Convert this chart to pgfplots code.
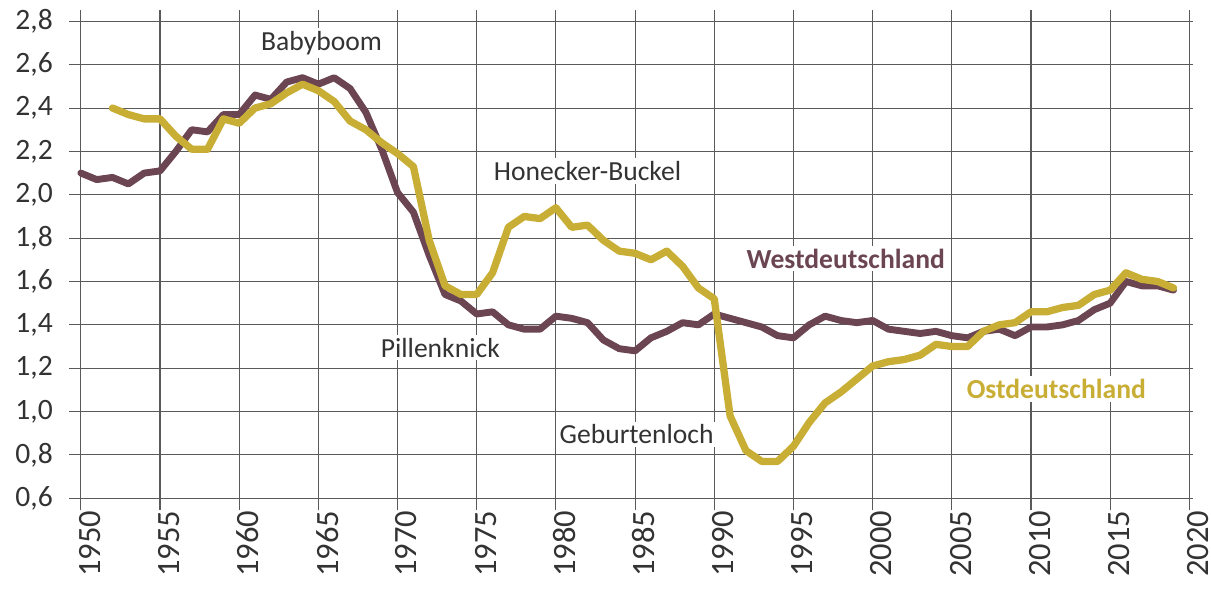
\documentclass[border=0pt]{standalone}
\usepackage{pgfplots}
\pgfplotsset{compat=1.18}
\usepackage{fontspec}
\setmainfont{Carlito}
\definecolor{west}{HTML}{6B4552}
\definecolor{east}{HTML}{C8AE35}
\definecolor{txt}{HTML}{333333}
\definecolor{gridc}{HTML}{5A5A5A}
\begin{document}
\begin{tikzpicture}
\begin{axis}[
  name=ax,
  scale only axis, width=570.5pt, height=254pt,
  xmin=1949.25, xmax=2020.25, ymin=0.544, ymax=2.853,
  axis line style={draw=none},
  major tick length=0pt,
  grid=major,
  grid style={gridc, line width=0.55pt},
  xtick={1950,1955,1960,1965,1970,1975,1980,1985,1990,1995,2000,2005,2010,2015,2020},
  xticklabels={1950,1955,1960,1965,1970,1975,1980,1985,1990,1995,2000,2005,2010,2015,2020},
  ytick={0.6,0.8,1.0,1.2,1.4,1.6,1.8,2.0,2.2,2.4,2.6,2.8},
  yticklabels={{0,6},{0,8},{1,0},{1,2},{1,4},{1,6},{1,8},{2,0},{2,2},{2,4},{2,6},{2,8}},
  xticklabel style={rotate=90, anchor=east, inner sep=0pt, yshift=-4.5pt, font=\fontsize{16.5}{18}\selectfont, text=txt},
  yticklabel style={anchor=east, inner sep=0pt, xshift=-8pt, font=\fontsize{15}{17}\selectfont, text=txt},
  clip=false,
]
\addplot[west, line width=3.5pt, line join=round, line cap=round] coordinates {
(1950,2.10) (1951,2.07) (1952,2.08) (1953,2.05) (1954,2.10) (1955,2.11)
(1956,2.20) (1957,2.30) (1958,2.29) (1959,2.37) (1960,2.37) (1961,2.46)
(1962,2.44) (1963,2.52) (1964,2.54) (1965,2.51) (1966,2.54) (1967,2.49)
(1968,2.38) (1969,2.21) (1970,2.01) (1971,1.92) (1972,1.72) (1973,1.54)
(1974,1.51) (1975,1.45) (1976,1.46) (1977,1.40) (1978,1.38) (1979,1.38)
(1980,1.44) (1981,1.43) (1982,1.41) (1983,1.33) (1984,1.29) (1985,1.28)
(1986,1.34) (1987,1.37) (1988,1.41) (1989,1.40) (1990,1.45) (1991,1.43)
(1992,1.41) (1993,1.39) (1994,1.35) (1995,1.34) (1996,1.40) (1997,1.44)
(1998,1.42) (1999,1.41) (2000,1.42) (2001,1.38) (2002,1.37) (2003,1.36)
(2004,1.37) (2005,1.35) (2006,1.34) (2007,1.37) (2008,1.38) (2009,1.35)
(2010,1.39) (2011,1.39) (2012,1.40) (2013,1.42) (2014,1.47) (2015,1.50)
(2016,1.60) (2017,1.58) (2018,1.58) (2019,1.56)
};
\addplot[east, line width=3.7pt, line join=round, line cap=round] coordinates {
(1952,2.40) (1953,2.37) (1954,2.35) (1955,2.35) (1956,2.27) (1957,2.21)
(1958,2.21) (1959,2.35) (1960,2.33) (1961,2.40) (1962,2.42) (1963,2.47)
(1964,2.51) (1965,2.48) (1966,2.43) (1967,2.34) (1968,2.30) (1969,2.24)
(1970,2.19) (1971,2.13) (1972,1.79) (1973,1.58) (1974,1.54) (1975,1.54)
(1976,1.64) (1977,1.85) (1978,1.90) (1979,1.89) (1980,1.94) (1981,1.85)
(1982,1.86) (1983,1.79) (1984,1.74) (1985,1.73) (1986,1.70) (1987,1.74)
(1988,1.67) (1989,1.57) (1990,1.52) (1991,0.98) (1992,0.82) (1993,0.77)
(1994,0.77) (1995,0.84) (1996,0.95) (1997,1.04) (1998,1.09) (1999,1.15)
(2000,1.21) (2001,1.23) (2002,1.24) (2003,1.26) (2004,1.31) (2005,1.30)
(2006,1.30) (2007,1.37) (2008,1.40) (2009,1.41) (2010,1.46) (2011,1.46)
(2012,1.48) (2013,1.49) (2014,1.54) (2015,1.56) (2016,1.64) (2017,1.61)
(2018,1.60) (2019,1.57)
};
\tikzset{ann/.style={font=\fontsize{14}{16}\selectfont, fill=white, inner sep=1.5pt}}
\node[ann, text=txt] at (axis cs:1965.2,2.70) {Babyboom};
\node[ann, text=txt] at (axis cs:1982.0,2.11) {Honecker-Buckel};
\node[ann, text=txt] at (axis cs:1972.7,1.295) {Pillenknick};
\node[ann, text=txt] at (axis cs:1985.1,0.895) {Geburtenloch};
\node[ann, text=west, font=\fontsize{14}{16}\selectfont\bfseries] at (axis cs:1998.3,1.705) {Westdeutschland};
\node[ann, text=east, font=\fontsize{14}{16}\selectfont\bfseries] at (axis cs:2011.6,1.105) {Ostdeutschland};
\end{axis}
\pgfresetboundingbox
\path ([shift={(-35pt,-39.5pt)}]ax.south west) rectangle ([shift={(9pt,5pt)}]ax.north east);
\end{tikzpicture}
\end{document}
